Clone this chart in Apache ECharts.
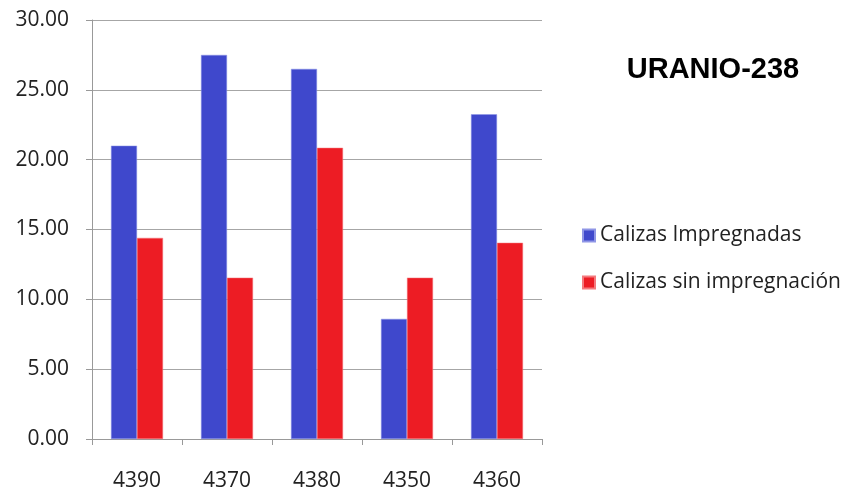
<!DOCTYPE html>
<html>
<head>
<meta charset="utf-8">
<script src="https://cdn.jsdelivr.net/npm/echarts@6/dist/echarts.min.js"></script>
<style>
  html, body { margin: 0; padding: 0; background: #fff; }
  #chart { width: 842px; height: 492px; }
</style>
</head>
<body>
<div id="chart"></div>
<script>
// Uranium-238 by sample depth
const categories = ['4390', '4370', '4380', '4350', '4360'];
const impregnadas = [21.0, 27.5, 26.5, 8.6, 23.25];
const sinImpregnacion = [14.4, 11.55, 20.85, 11.55, 14.05];
const seriesNames = ['Calizas Impregnadas', 'Calizas sin impregnación'];
const titleText = 'URANIO-238';

const labelFont = '"Open Sans", sans-serif';
const chart = echarts.init(document.getElementById('chart'));

chart.setOption({
  animation: false,
  backgroundColor: '#ffffff',
  title: {
    text: titleText,
    left: 708,
    top: 50,
    textAlign: 'center',
    textStyle: { fontFamily: '"Liberation Sans", Arial, sans-serif', fontWeight: 'bold', fontSize: 29, color: '#000' }
  },
  legend: {
    orient: 'vertical',
    left: 582,
    top: 225,
    padding: 0,
    itemWidth: 12,
    itemHeight: 12,
    itemGap: 26,
    icon: 'rect',
    textStyle: { fontFamily: labelFont, fontSize: 21, color: '#222' },
    data: seriesNames
  },
  grid: { left: 92, top: 20, width: 450, height: 421, containLabel: false },
  xAxis: {
    type: 'category',
    data: categories,
    axisLine: { lineStyle: { color: '#999', width: 1 } },
    axisTick: { show: true, length: 6, lineStyle: { color: '#999' } },
    axisLabel: { fontFamily: labelFont, fontSize: 21, color: '#222', margin: 32 }
  },
  yAxis: {
    type: 'value',
    min: 0,
    max: 30,
    interval: 5,
    axisLine: { show: true, lineStyle: { color: '#999', width: 1 } },
    axisTick: { show: true, inside: false, length: 6, lineStyle: { color: '#999' } },
    splitLine: { lineStyle: { color: '#a6a6a6', width: 1 } },
    axisLabel: {
      fontFamily: labelFont, fontSize: 21, color: '#222', margin: 23,
      formatter: v => v.toFixed(2)
    }
  },
  series: [
    {
      name: seriesNames[0],
      type: 'bar',
      data: impregnadas,
      barWidth: 26,
      barGap: '0%',
      itemStyle: { color: '#3f48cc', borderColor: '#8f96e6', borderWidth: 0.5 }
    },
    {
      name: seriesNames[1],
      type: 'bar',
      data: sinImpregnacion,
      barWidth: 26,
      barGap: '0%',
      itemStyle: { color: '#ed1c24', borderColor: '#f47a7e', borderWidth: 0.5 }
    }
  ]
});
</script>
</body>
</html>
